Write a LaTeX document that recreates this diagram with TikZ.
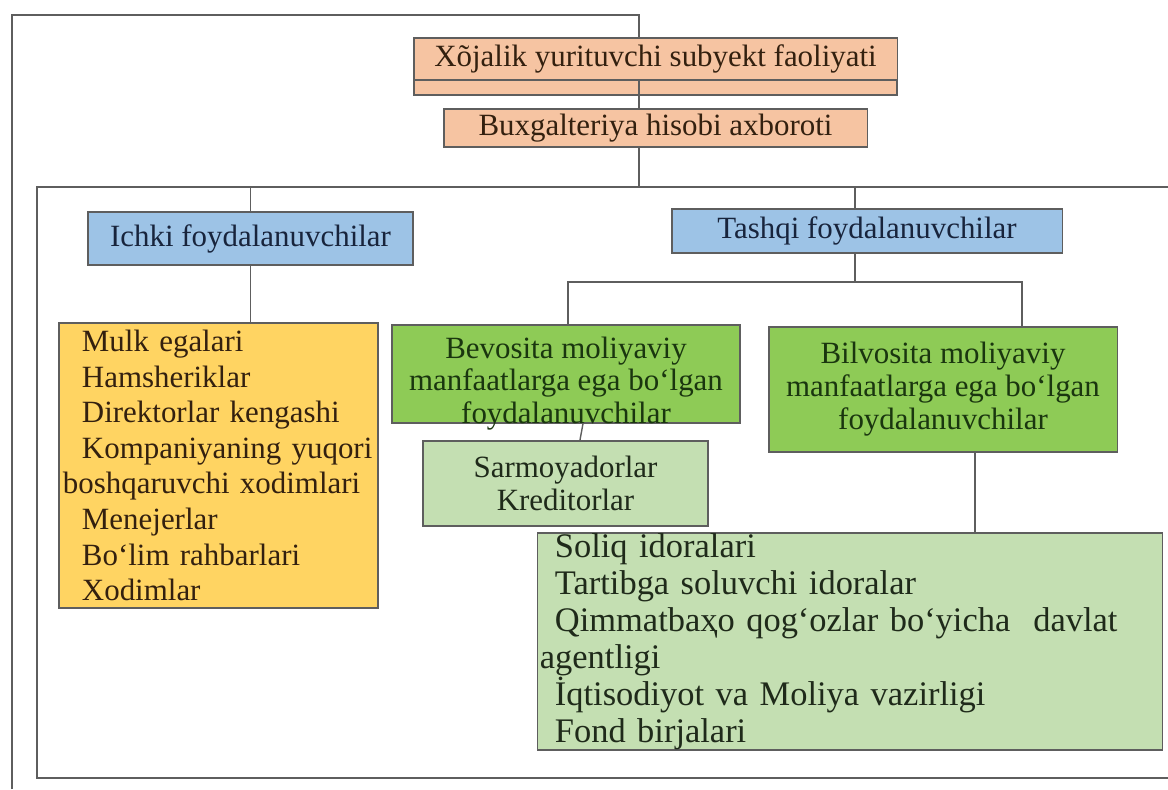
\documentclass[tikz,border=0pt]{standalone}
\usepackage{fontspec}
\setmainfont{Liberation Serif}
\usepackage{xcolor}
\usepackage{tikz}

\definecolor{peach}{HTML}{F6C4A2}
\definecolor{skyblue}{HTML}{9DC3E6}
\definecolor{gold}{HTML}{FFD462}
\definecolor{leaf}{HTML}{8ECB56}
\definecolor{pale}{HTML}{C4DFB2}
\definecolor{edgegray}{HTML}{5E5E5E}
\definecolor{txtbrown}{HTML}{33200F}
\definecolor{txtnavy}{HTML}{18243C}
\definecolor{txtgreen}{HTML}{1A360F}
\definecolor{txtdark}{HTML}{1F2A1A}

\begin{document}
\begin{tikzpicture}[
				x=0.025cm, y=-0.025cm,
				every node/.style={draw=edgegray, line width=0.8pt, rectangle, align=center, inner sep=0pt, font=\fontsize{22}{23}\selectfont},
				peachbox/.style={fill=peach, text=txtbrown},
				bluebox/.style={fill=skyblue, text=txtnavy},
				goldbox/.style={fill=gold, text=txtbrown},
				greenbox/.style={fill=leaf, text=txtgreen},
				palebox/.style={fill=pale, text=txtdark},
				frame/.style={draw=edgegray, line width=1.3pt},
				link/.style={draw=edgegray, line width=1pt}
				]
				\useasboundingbox (0,0) rectangle (1168,789);
				\draw[draw=edgegray, line width=0.8pt, fill=peach] (414,38) rectangle (897,95);
				\node[peachbox, minimum width=12.075cm, minimum height=1.05cm] (xojalik) at (655.5,59) {Xõjalik yurituvchi subyekt faoliyati};
				\node[peachbox, minimum width=10.575cm, minimum height=0.95cm] (buxgalteriya) at (655.5,128) {Buxgalteriya hisobi axboroti};
				\node[bluebox, minimum width=8.125cm, minimum height=1.325cm] (ichki) at (250.5,238.5) {Ichki foydalanuvchilar};
				\node[bluebox, minimum width=9.75cm, minimum height=1.1cm] (tashqi) at (867,231) {Tashqi foydalanuvchilar};
				\node[goldbox, minimum width=7.975cm, minimum height=7.125cm, inner xsep=0.1cm, text width=7.775cm, align=left, font=\fontsize{22}{25.3}\selectfont] (mulk) at (218.5,465.5) {%
					\hspace*{0.475cm}Mulk egalari\\
					\hspace*{0.475cm}Hamsheriklar\\
					\hspace*{0.475cm}Direktorlar kengashi\\
					\hspace*{0.475cm}Kompaniyaning yuqori\\
					boshqaruvchi xodimlari\\
					\hspace*{0.475cm}Menejerlar\\
					\hspace*{0.475cm}Bo‘lim rahbarlari\\
					\hspace*{0.475cm}Xodimlar};
				\node[greenbox, minimum width=8.7cm, minimum height=2.45cm, text height=2.45cm, text depth=0pt] (bevosita) at (566,374) {Bevosita moliyaviy\\manfaatlarga ega bo‘lgan\\foydalanuvchilar};
				\node[greenbox, minimum width=8.7cm, minimum height=3.125cm, font=\fontsize{22}{23.5}\selectfont] (bilvosita) at (943,389.5) {Bilvosita moliyaviy\\manfaatlarga ega bo‘lgan\\foydalanuvchilar};
				\node[palebox, minimum width=7.125cm, minimum height=2.125cm] (sarmoya) at (565.5,483.5) {Sarmoyadorlar\\Kreditorlar};
				\node[palebox, minimum width=15.6cm, minimum height=5.425cm, inner xsep=0.05cm, text width=15.5cm, align=left, font=\fontsize{24.5}{26.3}\selectfont] (soliq) at (850,641.5) {%
					\hspace*{0.375cm}Soliq idoralari\\
					\hspace*{0.375cm}Tartibga soluvchi idoralar\\
					\hspace*{0.375cm}Qimmatbaҳo qog‘ozlar bo‘yicha\ \ davlat\\
					agentligi\\
					\hspace*{0.375cm}İqtisodiyot va Moliya vazirligi\\
					\hspace*{0.375cm}Fond birjalari};
				\coordinate (topright) at (639,15);
				\coordinate (inTL) at (37,187);
				\coordinate (inTR) at (1168,187);
				\coordinate (inBL) at (37,778);
				\coordinate (inBR) at (1168,778);
				\coordinate (tq) at (855,282);
				\coordinate (hl) at (568,282);
				\coordinate (hr) at (1022,282);
				\draw[frame] (12,789) -- (12,15) -- (topright) -- (topright |- xojalik.north);
				\draw[frame] (topright |- xojalik.south) -- (topright |- buxgalteriya.north);
				\draw[frame] (inTR) -- (inTL) -- (inBL) -- (inBR);
				\draw[link] (topright |- buxgalteriya.south) -- (topright |- inTL);
				\draw[link] (ichki.north |- inTL) -- (ichki.north);
				\draw[link] (ichki.south) -- (ichki.south |- mulk.north);
				\draw[link] (tq |- inTL) -- (tq |- tashqi.north);
				\draw[link] (tq |- tashqi.south) -- (tq);
				\draw[link] (bevosita.north -| hl) -- (hl) -- (hr) -- (bilvosita.north -| hr);
				\draw[link] ([xshift=0.425cm]bevosita.south) -- ([xshift=0.36cm]sarmoya.north);
				\draw[link] ([xshift=0.8cm]bilvosita.south) -- ([xshift=0.8cm]bilvosita.south |- soliq.north);
			\end{tikzpicture}
\end{document}
